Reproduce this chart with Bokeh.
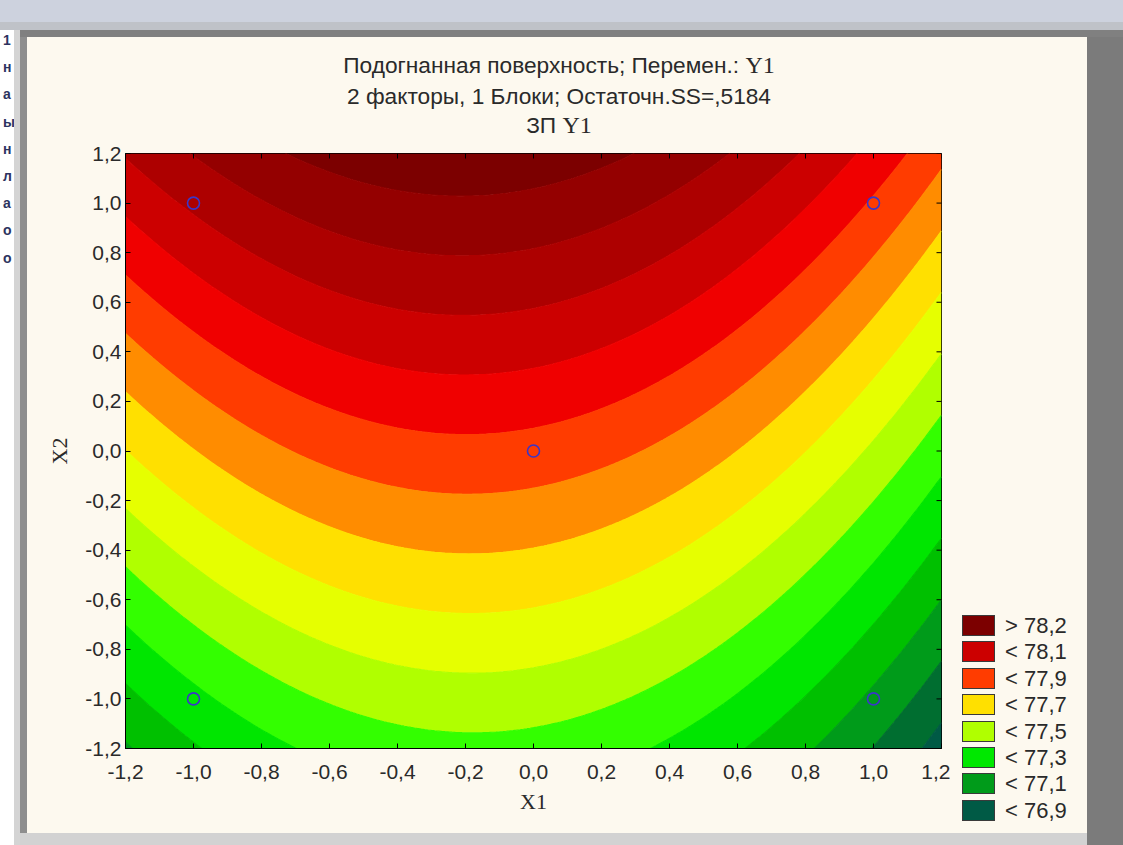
import numpy as np
from bokeh.plotting import figure
from bokeh.layouts import column, row
from bokeh.models import Range1d, LinearAxis, FixedTicker, Div
from bokeh.embed import file_html
from bokeh.resources import INLINE

# ---------------- data ----------------
# fitted response surface Y1 = b0 + b1*X1 + b2*X2 + b12*X1*X2 + b11*X1^2
term_names = ["const", "X1", "X2", "X1*X2", "X1^2"]
coef_values = [77.862, -0.107, 0.414, -0.009, -0.272]

# design (experiment) points
design_x1 = [-1.0, 1.0, -1.0, 1.0, 0.0]
design_x2 = [-1.0, -1.0, 1.0, 1.0, 0.0]

# contour levels and band colours (low -> high)
levels = [76.0, 76.9, 77.0, 77.1, 77.2, 77.3, 77.4, 77.5, 77.6, 77.7,
          77.8, 77.9, 78.0, 78.1, 78.2, 78.3, 79.0]
band_colors = ["#005a45", "#006e30", "#009b1a", "#00c000", "#00e600", "#33ff00",
               "#b0ff00", "#e6ff00", "#ffe000", "#ff8c00", "#ff3c00", "#f00000",
               "#cc0000", "#ad0000", "#940000", "#7c0000"]

legend_labels = ["> 78,2", "< 78,1", "< 77,9", "< 77,7", "< 77,5", "< 77,3", "< 77,1", "< 76,9"]
legend_colors = ["#7c0000", "#cc0000", "#ff3c00", "#ffe000", "#b0ff00", "#00e800", "#009b1a", "#005a45"]

tick_values = [-1.2, -1.0, -0.8, -0.6, -0.4, -0.2, 0.0, 0.2, 0.4, 0.6, 0.8, 1.0, 1.2]
tick_labels = ["-1,2", "-1,0", "-0,8", "-0,6", "-0,4", "-0,2", "0,0", "0,2", "0,4", "0,6", "0,8", "1,0", "1,2"]

title_lines = ["Подогнанная поверхность; Перемен.: ", "2 факторы, 1 Блоки; Остаточн.SS=,5184", "ЗП "]
title_var = "Y1"
x_label = "X1"
y_label = "X2"

# cut-off characters of the application window at the left edge
side_chars = ["1", "н", "а", "ы", "н", "л", "а", "о", "о"]

# ---------------- layout constants ----------------
W, H = 1123, 845
SIDE_W = 14                      # strip of the application window at the left
TOP_H = 143                      # height of the title strip above the figure
FL, FR, FT, FB = 125, 941, 153, 748
LEG_X = 950                      # legend strip starts here
XMIN, XMAX, YMIN, YMAX = -1.2, 1.2, -1.2, 1.2
CREAM = "#fdf9ef"
SANS = "Liberation Sans"
SERIF = "Liberation Serif"
TXT = "#2a2a2a"

FIG_W = LEG_X - SIDE_W
FIG_H = H - TOP_H
p = figure(width=FIG_W, height=FIG_H, output_backend="svg", toolbar_location=None,
           x_range=Range1d(XMIN, XMAX), y_range=Range1d(YMIN, YMAX),
           x_axis_location=None, y_axis_location=None,
           min_border_left=FL - SIDE_W, min_border_right=LEG_X - FR,
           min_border_top=FT - TOP_H, min_border_bottom=H - FB)
p.border_fill_color = None
p.background_fill_color = CREAM
p.outline_line_color = "black"
p.outline_line_width = 1
p.xgrid.visible = False
p.ygrid.visible = False

# ---------------- surface ----------------
b0, b1, b2, b12, b11 = coef_values
gx = np.linspace(XMIN, XMAX, 241)
gy = np.linspace(YMIN, YMAX, 241)
GX, GY = np.meshgrid(gx, gy)
GZ = b0 + b1 * GX + b2 * GY + b12 * GX * GY + b11 * GX ** 2

# boundary lines take the colour of the band below them, hiding seams
seam_colors = [band_colors[0]] + band_colors
p.contour(gx, gy, GZ, levels=levels, fill_color=band_colors,
          line_color=seam_colors, line_width=1.2)

p.scatter(design_x1, design_x2, marker="circle", size=12, fill_color=None,
          line_color="#3a36c8", line_width=1.6)

# ---------------- axes ----------------
ticker = FixedTicker(ticks=tick_values)
overrides = {v: s for v, s in zip(tick_values, tick_labels)}


def make_axis(label):
    ax = LinearAxis(ticker=ticker, major_label_overrides=overrides)
    ax.major_tick_in = 5
    ax.major_tick_out = 0
    ax.minor_tick_line_color = None
    ax.axis_line_color = "black"
    ax.major_tick_line_color = "black"
    ax.major_label_text_font = SANS
    ax.major_label_text_font_size = "21px"
    ax.major_label_text_color = TXT
    ax.axis_label = label
    ax.axis_label_text_font = SERIF
    ax.axis_label_text_font_style = "normal"
    ax.axis_label_text_font_size = "22px"
    ax.axis_label_text_color = TXT
    return ax


xb = make_axis(x_label)
xb.major_label_standoff = 16
xb.axis_label_standoff = 7
p.add_layout(xb, "below")
yl = make_axis(y_label)
yl.major_label_standoff = 4
yl.axis_label_standoff = 10
p.add_layout(yl, "left")

# inward tick marks on the top and right edges of the frame (clipped halves)
p.scatter(tick_values, [YMAX] * len(tick_values), marker="dash", size=10,
          angle=np.pi / 2, line_color="black", line_width=1)
p.scatter([XMAX] * len(tick_values), tick_values, marker="dash", size=10,
          line_color="black", line_width=1)

# ---------------- legend strip (right of the figure) ----------------
LEG_W = W - LEG_X
leg_parts = ['<div style="position:relative;width:%dpx;height:%dpx;font-family:\'%s\';'
             'font-size:22px;color:%s;">' % (LEG_W, FIG_H, SANS, TXT)]
for k, (lab, col) in enumerate(zip(legend_labels, legend_colors)):
    top = 615 - TOP_H + round(26.4 * k)
    leg_parts.append('<div style="position:absolute;left:%dpx;top:%dpx;width:33px;height:21px;'
                     'box-sizing:border-box;border:1px solid #3a3a3a;background:%s;"></div>'
                     % (962 - LEG_X, top, col))
    leg_parts.append('<div style="position:absolute;left:%dpx;top:%dpx;height:21px;'
                     'line-height:21px;white-space:nowrap;">%s</div>'
                     % (1005 - LEG_X, top, lab))
leg_parts.append('</div>')
legend_div = Div(text="".join(leg_parts), width=LEG_W, height=FIG_H,
                 styles={"margin": "0", "padding": "0"})

# ---------------- title strip ----------------
MAIN_W = W - SIDE_W


def line(top, html):
    return ('<div style="position:absolute;left:0;width:%dpx;top:%dpx;'
            'text-align:center;line-height:26px;white-space:nowrap;">%s</div>'
            % (2 * (559 - SIDE_W), top, html))


serif_span = ('<span style="font-family:\'%s\';font-size:24px;">%s</span>' % (SERIF, title_var))
title_html = (
    '<div style="position:relative;width:%dpx;height:%dpx;font-family:\'%s\';'
    'font-size:22.7px;color:%s;">' % (MAIN_W, TOP_H, SANS, TXT)
    + line(52, title_lines[0] + serif_span)
    + line(83, title_lines[1])
    + line(112, title_lines[2] + serif_span)
    + '</div>'
)
title_div = Div(text=title_html, width=MAIN_W, height=TOP_H,
                styles={"margin": "0", "padding": "0"})

# ---------------- left strip of the application window ----------------
side_parts = ['<div style="position:relative;width:%dpx;height:%dpx;overflow:hidden;'
              'font-family:\'%s\';font-size:14px;font-weight:bold;color:#2c3360;">'
              % (SIDE_W, H, SANS)]
for k, ch in enumerate(side_chars):
    side_parts.append('<div style="position:absolute;left:3px;top:%dpx;line-height:16px;">%s</div>'
                      % (32 + round(27.2 * k), ch))
side_parts.append('</div>')
side_div = Div(text="".join(side_parts), width=SIDE_W, height=H,
               styles={"margin": "0", "padding": "0"})

# ---------------- window chrome via CSS background ----------------
def layer(color, x, y, w, h):
    return "linear-gradient(%s,%s) %dpx %dpx / %dpx %dpx no-repeat" % (color, color, x, y, w, h)


bg_layers = [
    layer("#cdd2de", 0, 0, W, 22),
    layer("#bfc2c8", 0, 22, W, 8),
    layer("#808080", 20, 30, W - 20, 7),
    layer("#8e8e8e", 20, 30, 7, 803),
    layer("#d4d4d4", 14, 30, 6, H - 30),
    layer("#ffffff", 0, 30, 14, H - 30),
    layer("#7b7b7b", 1087, 37, W - 1087, H - 37),
    layer("#d2d2d2", 14, 833, 1087 - 14, H - 833),
]
main = column(title_div, row(p, legend_div, spacing=0), width=MAIN_W, height=H, spacing=0)
page = row(side_div, main, width=W, height=H, spacing=0,
           styles={"background": ", ".join(bg_layers) + ", " + CREAM})

open("out.html", "w").write(file_html(page, INLINE))
